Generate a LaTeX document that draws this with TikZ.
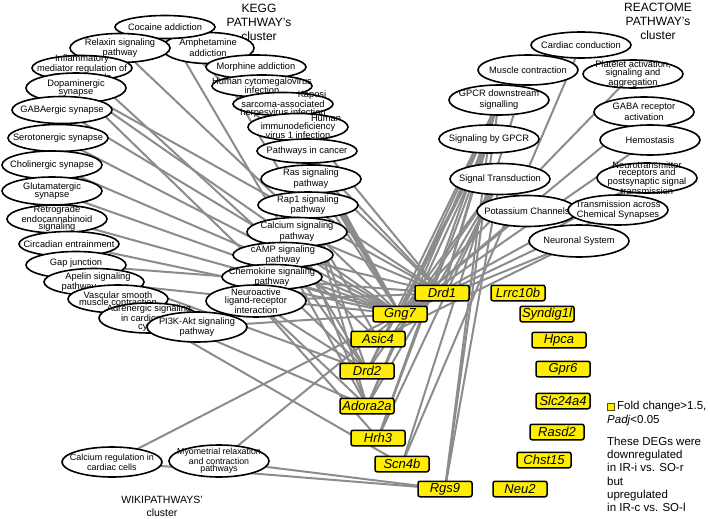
\documentclass[tikz,border=0pt]{standalone}
\usepackage{fontspec}
\setmainfont{Liberation Sans}
\usetikzlibrary{shapes.geometric}
\pgfdeclarelayer{back}
\pgfdeclarelayer{edges}
\pgfsetlayers{back,edges,main}
\definecolor{edgegray}{RGB}{140,140,140}
\definecolor{geneyellow}{RGB}{255,238,0}
\tikzset{
 pw/.style={ellipse, draw=black, line width=1.6pt, fill=white, inner sep=0pt, minimum width=100pt, minimum height=28pt},
 pwtext/.style={align=center, font=\fontsize{9.3}{8}\selectfont, inner sep=0pt},
 loose/.style={font=\fontsize{9.3}{11}\selectfont},
 mid/.style={font=\fontsize{9.3}{9.3}\selectfont},
 tight/.style={font=\fontsize{9.3}{7.2}\selectfont},
 gene/.style={rectangle, rounded corners=2pt, draw=black, line width=1.5pt, fill=geneyellow, minimum width=54pt, minimum height=15.5pt, inner sep=0pt, font=\fontsize{13}{14}\selectfont\itshape},
 pwedge/.style={draw=edgegray, line width=2pt},
 ctitle/.style={align=center, font=\fontsize{12}{14}\selectfont},
 legtext/.style={font=\fontsize{11.5}{13.2}\selectfont, inner sep=0pt}
}
% #1 ellipse options, #2 name, #3 position, #4 text options, #5 text
\newcommand\pwnode[5][]{\node[pw,#1] (#2) at (#3) {}; \node[pwtext,#4] (#2-t) at (#2.center) {#5};}
\begin{document}
\begin{tikzpicture}[x=1pt,y=-1pt]
\begin{pgfonlayer}{back}
\fill[white] (0,0) rectangle (710,519);
\end{pgfonlayer}
\useasboundingbox (0,0) rectangle (710,519);

% titles
\node[ctitle] (kegg-title) at (259,22) {KEGG\\PATHWAY's\\cluster};
\node[ctitle] (reac-title) at (658,21) {REACTOME\\PATHWAY's\\cluster};
\node[align=center, font=\fontsize{10.5}{13}\selectfont] (wiki-title) at (162,506) {WIKIPATHWAYS'\\cluster};

% KEGG cluster
\pwnode[minimum width=92pt, minimum height=31pt]{amph}{208,48}{loose}{Amphetamine\\addiction}
\pwnode[minimum height=23pt]{coc}{165,27}{}{Cocaine addiction}
\pwnode[minimum height=29pt]{relax}{120,48}{}{Relaxin signaling\\pathway}
\pwnode[minimum height=25pt]{infl}{82,68}{tight}{Inflammatory\\mediator regulation of\\TRP channels}
\pwnode[minimum height=30pt]{dopa}{76,88}{}{Dopaminergic\\synapse}
\pwnode[minimum height=27pt]{gaba}{62,110}{}{GABAergic synapse}
\pwnode[minimum height=27pt]{sero}{58,138}{}{Serotonergic synapse}
\pwnode[minimum height=28pt]{chol}{52,165}{}{Cholinergic synapse}
\pwnode[minimum height=28pt]{glut}{52,191}{}{Glutamatergic\\synapse}
\pwnode[minimum height=28pt]{retro}{57,219}{tight}{Retrograde\\endocannabinoid\\signaling}
\pwnode[minimum height=25pt]{circ}{69,244}{}{Circadian entrainment}
\pwnode[minimum height=27pt]{gap}{76,265}{yshift=2pt}{Gap junction}
\pwnode[minimum height=27pt]{apel}{94,282}{tight}{\hspace*{8pt}Apelin signaling\\pathway\hspace*{30pt}}
\pwnode[minimum height=28pt]{vasc}{118,299}{tight}{Vascular smooth\\muscle contraction}
\pwnode[minimum height=30pt]{adre}{149,318}{}{Adrenergic signaling\\in cardiomyo-\\cytes}
\pwnode[minimum height=30pt]{pi3k}{197,327}{}{PI3K-Akt signaling\\pathway}
\pwnode[minimum height=24pt]{morph}{256,67}{}{Morphine addiction}
\pwnode[minimum height=22pt]{hcmv}{262,86}{mid}{Human cytomegalovirus\\infection}
\pwnode[minimum height=23pt]{kaposi}{283,104}{}{\hspace*{58pt}Kaposi\\sarcoma-associated\\herpesvirus infection}
\pwnode[minimum height=27pt]{hiv}{298,127}{}{\hspace*{56pt}Human\\immunodeficiency\\virus 1 infection}
\pwnode[minimum height=24pt]{cancer}{307,151}{}{Pathways in cancer}
\pwnode[minimum height=28pt]{ras}{311,179}{loose}{Ras signaling\\pathway}
\pwnode[minimum height=26pt]{rap1}{308,205}{}{Rap1 signaling\\pathway}
\pwnode[minimum height=29pt]{calc}{297,232}{loose}{Calcium signaling\\pathway}
\pwnode[minimum height=25pt]{camp}{283,255}{}{cAMP signaling\\pathway}
\pwnode[minimum height=25pt]{chemo}{272,277}{}{Chemokine signaling\\pathway}
\pwnode[minimum height=32pt]{neuro}{256,301}{}{Neuroactive\\ligand-receptor\\interaction}

% REACTOME cluster
\pwnode[minimum height=26pt]{cardc}{581,45}{}{Cardiac conduction}
\pwnode[minimum height=30pt]{musc}{528,70}{}{Muscle contraction}
\pwnode[minimum height=28pt]{plate}{633,74}{}{Platelet activation,\\signaling and\\aggregation}
\pwnode[minimum height=30pt]{gpcrd}{499,100}{loose}{GPCR downstream\\signalling}
\pwnode[minimum height=30pt]{gabar}{644,112}{loose}{GABA receptor\\activation}
\pwnode[minimum height=28pt]{sgpcr}{489,139}{}{Signaling by GPCR}
\pwnode[minimum height=30pt]{hemo}{650,140}{}{Hemostasis}
\pwnode[minimum height=31pt]{sigt}{500,179}{}{Signal Transduction}
\pwnode[minimum height=30pt]{ntr}{647,178}{tight}{Neurotransmitter\\receptors and\\postsynaptic signal\\transmission}
\pwnode[minimum height=31pt]{potas}{527,211}{}{Potassium Channels}
\pwnode[minimum height=30pt]{trans}{618,210}{mid}{Transmission across\\Chemical Synapses}
\pwnode[minimum height=32pt]{neurs}{579,241}{}{Neuronal System}

% WikiPathways cluster
\pwnode[minimum height=30pt]{calreg}{112,462}{font=\fontsize{9}{10}\selectfont}{Calcium regulation in\\cardiac cells}
\pwnode[minimum height=32pt]{myo}{219,461}{font=\fontsize{8.8}{7.6}\selectfont}{Myometrial relaxation\\and contraction\\pathways}

% genes
\node[gene] (drd1) at (442,293) {Drd1};
\node[gene] (gng7) at (400,314) {Gng7};
\node[gene] (asic4) at (378,339) {Asic4};
\node[gene] (drd2) at (367,371) {Drd2};
\node[gene] (adora) at (367,406) {Adora2a};
\node[gene] (hrh3) at (378,438) {Hrh3};
\node[gene] (scn4b) at (402,464) {Scn4b};
\node[gene] (rgs9) at (445,489) {Rgs9};
\node[gene] (lrrc) at (518,293) {Lrrc10b};
\node[gene] (syn) at (547,314) {Syndig1l};
\node[gene] (hpca) at (559,340) {Hpca};
\node[gene] (gpr6) at (563,369) {Gpr6};
\node[gene] (slc) at (563,401) {Slc24a4};
\node[gene] (rasd2) at (557,432) {Rasd2};
\node[gene] (chst) at (544,460) {Chst15};
\node[gene] (neu2) at (520,489) {Neu2};

% legend
\node[draw={rgb,255:red,90;green,80;blue,0}, line width=0.8pt, fill=geneyellow, minimum size=7pt, inner sep=0pt] (legsq) at (610.5,407) {};
\node[legtext, anchor=west] (leg1) at (617,407) {Fold change>1.5,};
\node[legtext, anchor=west] (leg2) at (607,421) {\textit{Padj}<0.05};
\node[legtext, anchor=north west, align=left] (leg3) at (607,437) {These DEGs were\\downregulated\\in IR-i vs. SO-r\\but\\upregulated\\in IR-c vs. SO-l};

% edges
\begin{pgfonlayer}{edges}
\foreach \a/\b in {
 gng7/morph, gng7/hcmv, gng7/kaposi, gng7/hiv, gng7/cancer, gng7/ras, gng7/chemo, gng7/pi3k,
 gng7/relax, gng7/apel, gng7/circ, gng7/retro, gng7/glut, gng7/chol, gng7/sero, gng7/gaba, gng7/dopa,
 gng7/sgpcr, gng7/gpcrd, gng7/sigt, gng7/hemo, gng7/plate, gng7/potas, gng7/neurs, gng7/gabar,
 gng7/trans, gng7/ntr, gng7/calreg, gng7/myo,
 drd1/coc, drd1/amph, drd1/dopa, drd1/neuro, drd1/camp, drd1/calc, drd1/rap1, drd1/gap, drd1/morph,
 drd1/sgpcr, drd1/gpcrd, drd1/sigt,
 drd2/coc, drd2/dopa, drd2/neuro, drd2/gap, drd2/rap1, drd2/camp, drd2/sgpcr, drd2/gpcrd, drd2/sigt,
 adora/neuro, adora/camp, adora/calc, adora/rap1, adora/vasc, adora/sgpcr, adora/gpcrd, adora/sigt,
 hrh3/neuro, hrh3/sgpcr, hrh3/gpcrd, hrh3/sigt,
 asic4/infl, asic4/neurs, asic4/amph,
 scn4b/adre, scn4b/cardc, scn4b/musc,
 rgs9/sgpcr, rgs9/gpcrd, rgs9/sigt, rgs9/calreg, rgs9/myo}
 \draw[pwedge] (\a.center) -- (\b.center);
\end{pgfonlayer}
\end{tikzpicture}
\end{document}
